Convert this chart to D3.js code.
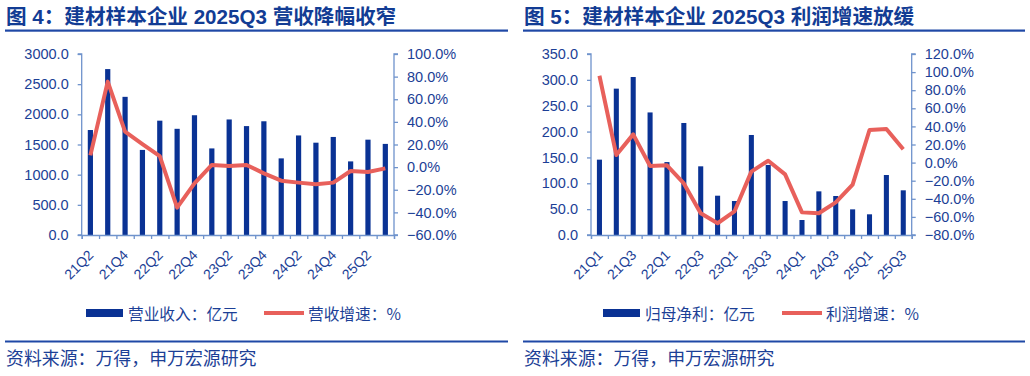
<!DOCTYPE html>
<html><head><meta charset="utf-8">
<script src="https://cdn.jsdelivr.net/npm/d3@7"></script>
<style>
body{margin:0;background:#fff;}
svg{display:block;font-family:"Liberation Sans",Arial,"Noto Sans CJK SC",sans-serif;}
.cjk{font-family:"Noto Sans CJK SC","Liberation Sans",sans-serif;}
.ttl{font-family:"Liberation Sans",Arial,"Noto Sans CJK SC",sans-serif;}
</style></head><body>
<svg id="c" width="1030" height="376"></svg>
<script>
// ---- Data ----
const revCategories = ["21Q2","21Q3","21Q4","22Q1","22Q2","22Q3","22Q4","23Q1","23Q2","23Q3","23Q4","24Q1","24Q2","24Q3","24Q4","25Q1","25Q2","25Q3"];
const revenue = [1740,2750,2290,1410,1895,1760,1985,1435,1915,1805,1885,1270,1650,1530,1625,1220,1580,1510];
const revGrowth = [10.4,75.6,31.3,20.4,9.8,-35.8,-14.3,1.9,1.0,1.9,-5.5,-12.0,-13.7,-15.2,-13.7,-3.4,-4.3,-1.1];
const revLeftTicks = [0,500,1000,1500,2000,2500,3000];
const revRightTicks = [-60,-40,-20,0,20,40,60,80,100];

const npCategories = ["21Q1","21Q2","21Q3","21Q4","22Q1","22Q2","22Q3","22Q4","23Q1","23Q2","23Q3","23Q4","24Q1","24Q2","24Q3","24Q4","25Q1","25Q2","25Q3"];
const netProfit = [145.7,283,305.5,237,141,216.6,132.8,76,65.7,193.4,135.4,65.7,29,84.4,75.4,49.6,40,116,86.4];
const npGrowth = [96,8.4,31.2,-3.8,-3,-23,-56,-67,-54,-10,2.1,-13,-55,-56,-44,-24.4,36,37.1,14.7];
const npLeftTicks = [0,50,100,150,200,250,300,350];
const npRightTicks = [-80,-60,-40,-20,0,20,40,60,80,100,120];

const BLUE = "#0a3294", RED = "#e8605b", AXIS = "#6f93cc", TXT = "#1c3f96";
const svg = d3.select("#c");

function panel(o){
  const g = svg.append("g");
  // title
  g.append("text").attr("class","ttl").attr("x",o.x0+1).attr("y",24)
    .attr("font-size",20.6).attr("font-weight","bold").attr("fill","#123c94").text(o.title);
  g.append("rect").attr("x",o.x0).attr("y",29.5).attr("width",o.w).attr("height",2.2).attr("fill","#1f48a6");
  // footer
  g.append("rect").attr("x",o.x0).attr("y",340.5).attr("width",o.w).attr("height",2).attr("fill","#1f48a6");
  g.append("text").attr("class","cjk").attr("x",o.x0+1).attr("y",365).attr("font-size",17.9)
    .attr("fill",TXT).text("资料来源：万得，申万宏源研究");

  const x = d3.scaleBand().domain(o.cats).range([o.pl,o.pr]).paddingInner(0.7).paddingOuter(0.35);
  const xb = d3.scaleLinear().domain([0,o.cats.length]).range([o.pl,o.pr]);
  const yl = d3.scaleLinear().domain(o.ld).range([235,54]);
  const yr = d3.scaleLinear().domain(o.rd).range([235,54]);

  // bars
  g.selectAll(".bar").data(o.bars).join("rect")
    .attr("x",(d,i)=>x(o.cats[i])).attr("width",x.bandwidth())
    .attr("y",d=>yl(d)).attr("height",d=>yl(0)-yl(d)).attr("fill",BLUE);

  // left axis
  const la = g.append("g").attr("transform",`translate(${o.pl},0)`)
    .call(d3.axisLeft(yl).tickValues(o.lt).tickFormat(d3.format(".1f")).tickSize(4).tickPadding(9));
  // right axis
  const ra = g.append("g").attr("transform",`translate(${o.pr},0)`)
    .call(d3.axisRight(yr).tickValues(o.rt).tickFormat(d=>d3.format(".1f")(d)+"%").tickSize(4).tickPadding(9));
  // bottom axis
  const ba = g.append("g").attr("transform","translate(0,235)")
    .call(d3.axisBottom(xb).tickValues(d3.range(o.cats.length+1)).tickFormat("").tickSize(4));
  [la,ra,ba].forEach(a=>{
    a.select(".domain").attr("stroke",AXIS).attr("stroke-width",1.3);
    a.selectAll(".tick line").attr("stroke",AXIS).attr("stroke-width",1.3);
    a.selectAll("text").attr("fill",TXT).attr("font-size",14.5).attr("font-family","Liberation Sans, Arial, sans-serif");
  });
  la.selectAll(".domain").attr("d",`M-4,54H0V235H-4`);
  ra.selectAll(".domain").attr("d",`M4,54H0V235H4`);

  // x labels
  g.selectAll(".xl").data(o.cats.filter((c,i)=>i%2===0)).join("text")
    .attr("text-anchor","end").attr("font-size",14).attr("fill",TXT)
    .attr("transform",d=>`translate(${x(d)+x.bandwidth()/2+4},${256}) rotate(-45)`)
    .text(d=>d);

  // line
  const line = d3.line().x((d,i)=>x(o.cats[i])+x.bandwidth()/2).y(d=>yr(d));
  g.append("path").datum(o.line).attr("d",line).attr("fill","none")
    .attr("stroke",RED).attr("stroke-width",4).attr("stroke-linejoin","round");

  // legend
  g.append("rect").attr("x",o.lg[0]).attr("y",309).attr("width",37).attr("height",8).attr("fill",BLUE);
  g.append("text").attr("class","cjk").attr("x",o.lg[0]+42).attr("y",320).attr("font-size",15.7).attr("fill",TXT).text(o.lg1);
  g.append("line").attr("x1",o.lg[1]).attr("x2",o.lg[1]+40).attr("y1",313).attr("y2",313)
    .attr("stroke",RED).attr("stroke-width",4);
  g.append("text").attr("class","cjk").attr("x",o.lg[1]+44).attr("y",320).attr("font-size",15.7).attr("fill",TXT).text(o.lg2);
}

panel({x0:5,w:503,title:"图 4：建材样本企业 2025Q3 营收降幅收窄",cats:revCategories,bars:revenue,line:revGrowth,
  pl:81.7,pr:394,ld:[0,3000],rd:[-60,100],lt:revLeftTicks,rt:revRightTicks,
  lg:[86,264],lg1:"营业收入：亿元",lg2:"营收增速：%"});
panel({x0:523,w:502,title:"图 5：建材样本企业 2025Q3 利润增速放缓",cats:npCategories,bars:netProfit,line:npGrowth,
  pl:591,pr:911.7,ld:[0,350],rd:[-80,120],lt:npLeftTicks,rt:npRightTicks,
  lg:[603,782],lg1:"归母净利：亿元",lg2:"利润增速：%"});
</script></body></html>
